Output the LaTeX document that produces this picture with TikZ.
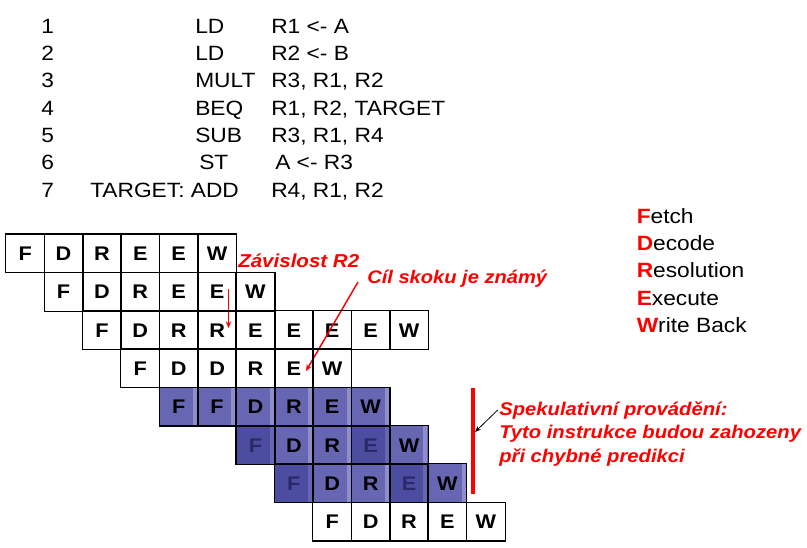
\documentclass[tikz,border=0pt]{standalone}
\usepackage{fontspec}
\setmainfont{Liberation Sans}[FakeStretch=1.1]
\usetikzlibrary{arrows.meta}

\definecolor{hot}{RGB}{255,0,0}
\definecolor{specmid}{RGB}{102,102,178}
\definecolor{speclight}{RGB}{142,142,204}
\definecolor{specdark}{RGB}{76,76,160}
\definecolor{specink}{RGB}{42,42,106}

\pgfdeclarelayer{frames}
\pgfsetlayers{main,frames}

\tikzset{
  code/.style={anchor=base west, inner sep=0pt, font=\fontsize{15.5}{18}\selectfont},
  legend/.style={anchor=base west, inner sep=0pt, font=\fontsize{15.5}{18}\selectfont},
  note/.style={anchor=base west, inner sep=0pt, text=hot, font=\fontsize{#1}{16}\selectfont\bfseries\itshape},
  cellbase/.style={minimum width=28.78pt, minimum height=28.72pt, inner sep=0pt,
    text height=10.6pt, text depth=0pt,
    font=\fontsize{14.8}{17}\selectfont\bfseries},
  strip/.style={path picture={\fill[#1]
      ([xshift=-3.6pt]path picture bounding box.north east) rectangle
      ([xshift=-0.6pt]path picture bounding box.south east);}},
  cellp/.style={cellbase},
  cellm/.style={cellbase, fill=specmid, strip=speclight},
  celld/.style={cellbase, fill=specdark, strip=specmid, text=specink},
  cellframe/.style={draw=black, line width=0.9pt},
  redarrow/.style={draw=hot, line width=1.1pt, -{Stealth[length=5pt,width=4.2pt]}},
  blackarrow/.style={draw=black, line width=0.6pt, -{Stealth[length=4.5pt,width=3.6pt]}},
}

\begin{document}
\begin{tikzpicture}[x=0.75pt, y=-0.75pt]
\useasboundingbox (0,0) rectangle (807,547);

% program listing
\foreach \n/\ox/\op/\ax/\arg [count=\i from 0] in {
    1/195/LD/271/{R1 <- A},
    2/195/LD/271/{R2 <- B},
    3/195/MULT/271/{R3, R1, R2},
    4/195/BEQ/271/{R1, R2, TARGET},
    5/195/SUB/271/{R3, R1, R4},
    6/199/ST/275/{A <- R3},
    7/90/{TARGET: ADD}/271/{R4, R1, R2}} {
  \pgfmathsetmacro\yb{33.3+27.33*\i}
  \node[code] (num\n) at (41,\yb) {\n};
  \node[code] (op\n) at (\ox,\yb) {\op};
  \node[code] (arg\n) at (\ax,\yb) {\arg};
}

% stage legend
\foreach \first/\rest [count=\i from 0] in {F/etch, D/ecode, R/esolution, E/xecute, W/rite Back} {
  \node[legend] (leg\i) at (636.5,223.3+27.25*\i) {{\color{hot}\bfseries\first}\rest};
}

% pipeline diagram: row / first column / stages (letter/shade)
\foreach \r/\c/\seq in {
    0/0/{F/p,D/p,R/p,E/p,E/p,W/p},
    1/1/{F/p,D/p,R/p,E/p,E/p,W/p},
    2/2/{F/p,D/p,R/p,R/p,E/p,E/p,E/p,E/p,W/p},
    3/3/{F/p,D/p,D/p,R/p,E/p,W/p},
    4/4/{F/m,F/m,D/m,R/m,E/m,W/m},
    5/6/{F/d,D/m,R/m,E/d,W/m},
    6/7/{F/d,D/m,R/m,E/d,W/m},
    7/8/{F/p,D/p,R/p,E/p,W/p}} {
  \foreach \ltr/\sh [count=\k from 0] in \seq {
    \pgfmathsetmacro\cx{6+38.38*(\c+\k)+19.19}
    \pgfmathsetmacro\cy{234.3+38.3*\r+19.15}
    \node[cell\sh] (c\r-\k) at (\cx,\cy) {\ltr};
    \begin{pgfonlayer}{frames}
      \draw[cellframe] (c\r-\k.north west) rectangle (c\r-\k.south east);
    \end{pgfonlayer}
  }
}

% annotations
\node[note=14] (dep) at (238,267) {Závislost R2};
\node[note=13.7] (tgt) at (367,283.3) {Cíl skoku je známý};
\node[note=13.8] (spec1) at (499,415) {Spekulativní provádění:};
\node[note=13.8] (spec2) at (499,438.5) {Tyto instrukce budou zahozeny};
\node[note=13.8] (spec3) at (499,462) {při chybné predikci};

\coordinate (depfrom) at (228.5,289);
\coordinate (depto) at (228.5,328);
\coordinate (tgtfrom) at (358,282);
\coordinate (tgtto) at (306,371);
\coordinate (bartop) at (473,388);
\coordinate (barbot) at (473,494);
\coordinate (barhit) at (475,432);

\draw[redarrow] (depfrom) -- (depto);
\draw[redarrow] (tgtfrom) -- (tgtto);
\draw[draw=hot, line width=2.3pt] (bartop) -- (barbot);
\draw[blackarrow] ([xshift=-1pt]spec1.west) -- (barhit);
\end{tikzpicture}
\end{document}
